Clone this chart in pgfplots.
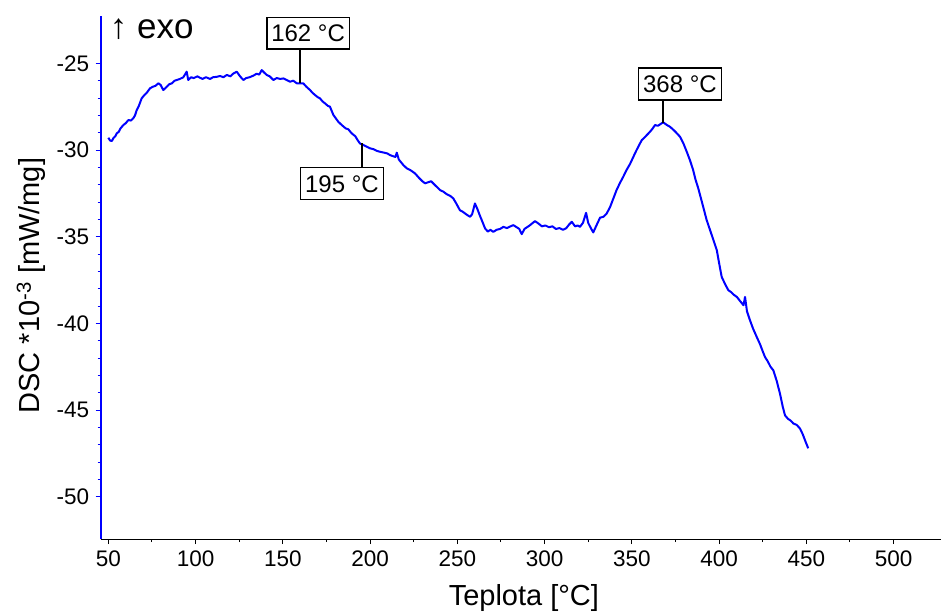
\documentclass[border=0pt]{standalone}
\usepackage{fontspec}
\setmainfont{Liberation Sans}
\usepackage{pgfplots}
\pgfplotsset{compat=1.18}
\begin{document}
\begin{tikzpicture}
\begin{axis}[
  scale only axis,
  width=840pt, height=523pt,
  xmin=45.65, xmax=527.2,
  ymin=-52.44, ymax=-22.27,
  axis lines=left,
  axis line style={-},
  x axis line style={black, line width=1.2pt},
  y axis line style={blue, line width=1.6pt},
  xtick={50,100,...,500},
  ytick={-50,-45,...,-25},
  minor x tick num=1,
  minor y tick num=4,
  tick align=outside,
  major tick length=5pt,
  minor tick length=3pt,
  xtick style={black, line width=0.9pt},
  ytick style={blue, line width=0.9pt},
  every minor y tick/.append style={blue},
  /pgf/number format/assume math mode=true,
  ticklabel style={font=\fontsize{22.5}{26}\selectfont},
  xticklabel style={yshift=-3pt},
  yticklabel style={xshift=-3pt},
  clip=false,
]
\addplot[color={rgb,255:red,0;green,0;blue,255}, line width=2pt, line join=round] coordinates {
(50,-29.29)(51,-29.45)(52,-29.48)(53,-29.30)(54,-29.20)(54.8,-29.04)(56,-28.95)(57,-28.75)
(58.6,-28.56)(60,-28.45)(61.5,-28.27)(63,-28.30)(64.3,-28.17)(65.3,-28.00)(66.3,-27.69)
(67.5,-27.45)(69.1,-27.02)(70.5,-26.85)(72,-26.70)(73.9,-26.44)(75.5,-26.35)(77,-26.30)
(78.7,-26.15)(80,-26.25)(81.5,-26.54)(83.5,-26.35)(85,-26.20)(86.5,-26.15)(88,-26.00)
(89.2,-25.96)(91,-25.90)(93,-25.80)(94.9,-25.48)(95.8,-25.96)(97.5,-25.80)(99,-25.85)
(101,-25.75)(102.5,-25.83)(104,-25.90)(106,-25.80)(108.3,-25.90)(110,-25.80)(112,-25.78)
(114,-25.73)(116,-25.80)(117.9,-25.67)(120,-25.75)(121.5,-25.60)(123.6,-25.48)(125.5,-25.75)
(127.4,-25.96)(129,-25.85)(131,-25.80)(133.1,-25.71)(135,-25.60)(136.5,-25.65)(137.9,-25.39)
(139.5,-25.55)(140.8,-25.67)(142.5,-25.75)(144.6,-25.96)(146.5,-25.85)(148.5,-25.90)
(150.3,-25.87)(152,-25.95)(154.1,-26.06)(156,-26.00)(158,-26.15)(159.9,-26.15)(161.7,-26.15)
(163.5,-26.35)(165.6,-26.54)(167,-26.70)(168.5,-26.83)(170,-26.95)(171.3,-27.02)(172.8,-27.20)
(174.2,-27.31)(175.8,-27.45)(177,-27.50)(179,-27.98)(181.8,-28.37)(183.8,-28.56)(186,-28.75)
(187.5,-28.80)(189.5,-29.04)(191.5,-29.20)(193,-29.45)(194.2,-29.62)(196,-29.70)(198,-29.80)
(199.9,-29.90)(202,-29.95)(204,-30.05)(205.7,-30.10)(208,-30.15)(210,-30.20)(211.4,-30.29)
(213,-30.35)(214.5,-30.40)(215.3,-30.15)(216.5,-30.55)(219.1,-30.87)(221,-31.05)(223,-31.15)
(225.8,-31.35)(228,-31.60)(230,-31.80)(231.5,-31.92)(233.5,-31.85)(235,-31.80)(236.2,-31.92)
(238,-32.10)(240.1,-32.31)(242,-32.40)(244,-32.55)(246,-32.65)(247.7,-32.79)(249.5,-33.10)
(251.5,-33.47)(253,-33.55)(255,-33.70)(257.3,-33.85)(258.5,-33.70)(260.1,-33.08)(261.5,-33.40)
(263,-33.80)(264,-34.04)(265.9,-34.52)(267.5,-34.70)(269,-34.60)(270.6,-34.72)(272.5,-34.60)
(274.5,-34.55)(276.4,-34.43)(278.5,-34.50)(280.5,-34.40)(282.1,-34.33)(284,-34.45)(285.5,-34.55)
(286.9,-34.85)(288.5,-34.55)(290,-34.45)(291.7,-34.33)(294.5,-34.10)(296.4,-34.23)(298.5,-34.40)
(300.5,-34.35)(302.5,-34.45)(304.5,-34.40)(306.5,-34.55)(308.5,-34.50)(310.6,-34.60)(312.5,-34.50)
(314,-34.30)(315.6,-34.14)(317.5,-34.40)(319,-34.35)(320.3,-34.43)(322,-34.20)(323.8,-33.62)
(325,-34.20)(326.5,-34.50)(327.9,-34.75)(329.5,-34.40)(331.8,-33.90)(333.7,-33.85)(335.6,-33.66)
(337.5,-33.30)(339.4,-32.80)(341.3,-32.30)(343.2,-31.90)(345.1,-31.54)(347,-31.15)(349,-30.80)
(350.9,-30.39)(352.5,-30.05)(354,-29.75)(355.7,-29.43)(358,-29.20)(360.4,-28.95)(362,-28.75)
(363.3,-28.56)(365,-28.60)(366.5,-28.50)(368,-28.40)(370,-28.55)(371.9,-28.66)(373.5,-28.80)
(375.5,-29.00)(377.6,-29.23)(379.5,-29.60)(381.5,-30.10)(383.3,-30.58)(385,-31.10)(386.5,-31.70)
(388.1,-32.21)(389.8,-32.85)(391.5,-33.50)(392.9,-34.04)(394.8,-34.60)(396.8,-35.20)(398.7,-35.77)
(400,-36.50)(401.5,-37.31)(403.3,-37.70)(405.3,-38.08)(407,-38.20)(408.5,-38.35)(410.2,-38.47)
(412,-38.70)(414,-38.95)(414.9,-38.47)(416,-39.30)(417.7,-39.81)(419.5,-40.30)(421.6,-40.78)
(423.5,-41.20)(425,-41.60)(426.3,-41.93)(428,-42.20)(429.5,-42.50)(431.1,-42.70)(433,-43.30)
(434.9,-44.04)(436.5,-44.80)(437.8,-45.30)(439.5,-45.50)(441,-45.60)(442.6,-45.77)(444.5,-45.85)
(446.4,-46.06)(448,-46.40)(449.5,-46.80)(451.1,-47.20)
};
% annotations
\tikzset{annbox/.style={draw=black, line width=1.6pt, fill=white, font=\fontsize{24}{27}\selectfont,
  inner xsep=4.5pt, inner ysep=7.3pt, text height=17.2pt, text depth=0pt}}
\draw[black, line width=1.8pt] (axis cs:160,-24.23) -- (axis cs:160,-26.15);
\node[annbox, anchor=south] at (axis cs:164.5,-24.23) {162 °C};
\draw[black, line width=1.8pt] (axis cs:195.2,-30.97) -- (axis cs:195.2,-29.62);
\node[annbox, anchor=north] at (axis cs:183.9,-30.97) {195 °C};
\draw[black, line width=1.8pt] (axis cs:368,-27.16) -- (axis cs:368,-28.46);
\node[annbox, anchor=south] at (axis cs:377.6,-27.16) {368 °C};
% labels
\node[anchor=base west, inner sep=0pt, font=\fontsize{35}{40}\selectfont]
  at (axis description cs:0.0107,0.9574) {↑ exo};
\node[anchor=base, inner sep=0pt, font=\fontsize{29}{32}\selectfont]
  at (axis description cs:0.5036,-0.1262) {Teplota [°C]};
\node[anchor=base, rotate=90, inner sep=0pt, font=\fontsize{29}{32}\selectfont]
  at (axis description cs:-0.0723,0.4847) {DSC *10\textsuperscript{-3} [mW/mg]};
\coordinate (ll) at (axis description cs:0,0);
\coordinate (ur) at (axis description cs:1,1);
\end{axis}
\pgfresetboundingbox
\path (ll) ++(-100.7pt,-73pt) coordinate (a);
\path (ur) ++(1pt,16pt) coordinate (b);
\path[use as bounding box] (a) rectangle (b);
\end{tikzpicture}
\end{document}
